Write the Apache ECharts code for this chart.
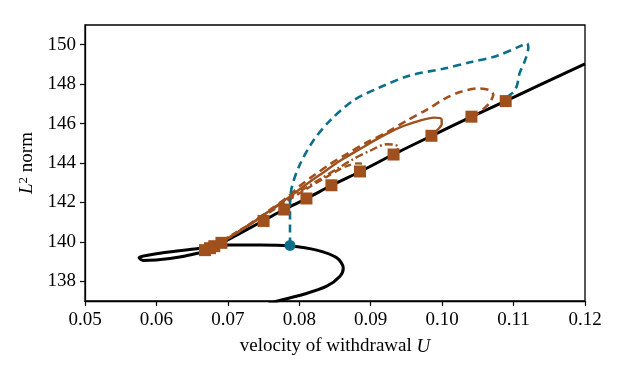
<!DOCTYPE html>
<html>
<head>
<meta charset="utf-8">
<script src="https://cdn.jsdelivr.net/npm/echarts@6/dist/echarts.min.js"></script>
<style>html,body{margin:0;padding:0;background:#fff}#c{width:623px;height:374px}</style>
</head>
<body>
<div id="c"></div>
<script>
// Black solution branch (traversal order)
var blackU = [0.0756, 0.07684, 0.08052, 0.08384, 0.0857, 0.08616, 0.08524, 0.08244, 0.0787, 0.0745, 0.06984, 0.06564, 0.06092, 0.0584, 0.05756, 0.05816, 0.0619, 0.0661, 0.06778, 0.06918, 0.07496, 0.07786, 0.08104, 0.08454, 0.08854, 0.09316, 0.09854, 0.10414, 0.10887, 0.12];
var blackL = [136.83, 136.99, 137.33, 137.75, 138.26, 138.68, 139.19, 139.58, 139.79, 139.84, 139.84, 139.65, 139.45, 139.30, 139.20, 139.06, 139.16, 139.45, 139.68, 139.94, 141.07, 141.64, 142.20, 142.87, 143.57, 144.43, 145.38, 146.35, 147.14, 149.03];

// Blue dashed branch
var blueU = [0.0787, 0.0787, 0.0787, 0.07894, 0.0801, 0.08196, 0.0843, 0.08756, 0.0913, 0.0955, 0.10016, 0.1039, 0.10764, 0.11114, 0.11188, 0.11206, 0.1116, 0.11083, 0.11048, 0.10996, 0.10926, 0.10887];
var blueL = [139.82, 140.80, 141.73, 142.75, 143.94, 145.13, 146.15, 147.17, 147.84, 148.44, 148.78, 149.11, 149.43, 149.96, 150.07, 149.86, 149.20, 148.54, 147.93, 147.59, 147.39, 147.14];

// Brown branches
var brownDashU = [0.10414, 0.10502, 0.106, 0.1067, 0.10716, 0.10656, 0.10488, 0.1025, 0.1004, 0.09788, 0.09504, 0.09224, 0.08944, 0.08664, 0.0843, 0.08196, 0.0801, 0.07824, 0.0759, 0.0731, 0.0703, 0.0675, 0.0668];
var brownDashL = [146.35, 146.53, 146.81, 147.08, 147.47, 147.70, 147.78, 147.60, 147.27, 146.71, 146.15, 145.55, 145.04, 144.45, 143.94, 143.35, 142.84, 142.24, 141.62, 140.91, 140.24, 139.68, 139.56];

var brownSolidU = [0.09854, 0.09924, 0.09994, 0.09991, 0.09886, 0.0969, 0.0941, 0.0913, 0.0885, 0.0857, 0.08336, 0.08104, 0.07916, 0.0766, 0.0738, 0.071, 0.06778, 0.0668];
var brownSolidL = [145.38, 145.64, 145.98, 146.23, 146.30, 146.15, 145.81, 145.30, 144.71, 144.11, 143.52, 142.93, 142.42, 141.77, 141.06, 140.40, 139.74, 139.56];

var brownDotU = [0.09316, 0.09368, 0.09389, 0.0931, 0.09224, 0.0899, 0.08756, 0.08524, 0.0829, 0.08056, 0.078, 0.0752, 0.0717, 0.06778, 0.0668];
var brownDotL = [144.43, 144.62, 144.82, 144.94, 144.95, 144.62, 144.20, 143.69, 143.18, 142.67, 142.08, 141.41, 140.55, 139.71, 139.56];

var brownSmallU = [0.08854, 0.08906, 0.08906, 0.0882, 0.0864, 0.0836, 0.0808, 0.078, 0.07478, 0.071, 0.06778, 0.0668];
var brownSmallL = [143.57, 143.76, 143.93, 143.98, 143.81, 143.25, 142.64, 142.0, 141.26, 140.45, 139.74, 139.56];

// Hopf points (squares) and fold point (circle)
var hopfU = [0.0668, 0.0675, 0.0681, 0.0691, 0.0750, 0.0779, 0.0810, 0.0845, 0.0885, 0.0932, 0.0985, 0.1041, 0.1089];
var hopfL = [139.58, 139.68, 139.78, 139.95, 141.06, 141.64, 142.20, 142.87, 143.57, 144.43, 145.38, 146.35, 147.14];
var dotU = [0.0787];
var dotL = [139.82];

var xTitle = 'velocity of withdrawal ';
var xTitleItalic = 'U';
var yTitleItalic = 'L';
var yTitleSup = '2';
var yTitleRest = ' norm';

function pairs(u, l) { return u.map(function (v, i) { return [v, l[i]]; }); }

var BROWN = '#a0501d';
var BLUE = '#0c6f8a';
var FONT = 'Liberation Serif';

var chart = echarts.init(document.getElementById('c'), null, {renderer: 'canvas'});
chart.setOption({
  animation: false,
  grid: {left: 85, right: 38, top: 25, bottom: 73, show: true, borderColor: '#000', borderWidth: 1.3, backgroundColor: 'transparent'},
  xAxis: {
    type: 'value', min: 0.05, max: 0.12, interval: 0.01,
    axisLine: {lineStyle: {color: '#000', width: 1.3}},
    axisTick: {show: true, length: 5, lineStyle: {color: '#000', width: 1.2}},
    splitLine: {show: false},
    axisLabel: {color: '#000', fontFamily: FONT, fontSize: 19, margin: 10, formatter: function (v) { return v.toFixed(2); }},
    name: '{n|' + xTitle + '}{i|' + xTitleItalic + '}',
    nameLocation: 'middle', nameGap: 36,
    nameTextStyle: {rich: {n: {fontFamily: FONT, fontSize: 19, color: '#000'}, i: {fontFamily: FONT, fontSize: 19, fontStyle: 'italic', color: '#000'}}}
  },
  yAxis: {
    type: 'value', min: 137, max: 151, splitNumber: 7,
    axisLine: {lineStyle: {color: '#000', width: 1.3}},
    axisTick: {show: true, length: 5, lineStyle: {color: '#000', width: 1.2}},
    splitLine: {show: false},
    axisLabel: {color: '#000', fontFamily: FONT, fontSize: 19, margin: 9, showMinLabel: false, showMaxLabel: false},
    name: '{i|' + yTitleItalic + '}{s|' + yTitleSup + '}{n|' + yTitleRest + '}',
    nameLocation: 'middle', nameGap: 43, nameRotate: 90,
    nameTextStyle: {rich: {
      i: {fontFamily: FONT, fontSize: 19, fontStyle: 'italic', color: '#000'},
      s: {fontFamily: FONT, fontSize: 13, color: '#000', verticalAlign: 'top', padding: [0, 0, 8, 0]},
      n: {fontFamily: FONT, fontSize: 19, color: '#000'}
    }}
  },
  series: [
    {type: 'line', data: pairs(blackU, blackL), showSymbol: false, smooth: 0.3, z: 2,
     lineStyle: {color: '#000', width: 3}},
    {type: 'line', data: pairs(brownSmallU, brownSmallL), showSymbol: false, smooth: 0.3, z: 3,
     lineStyle: {color: BROWN, width: 2.4, type: [7, 4]}},
    {type: 'line', data: pairs(brownDotU, brownDotL), showSymbol: false, smooth: 0.3, z: 3,
     lineStyle: {color: BROWN, width: 2.4, type: [8, 3, 2, 3]}},
    {type: 'line', data: pairs(brownSolidU, brownSolidL), showSymbol: false, smooth: 0.3, z: 3,
     lineStyle: {color: BROWN, width: 2.4}},
    {type: 'line', data: pairs(brownDashU, brownDashL), showSymbol: false, smooth: 0.3, z: 3,
     lineStyle: {color: BROWN, width: 2.6, type: [8, 5]}},
    {type: 'line', data: pairs(blueU, blueL), showSymbol: false, smooth: 0.3, z: 4,
     lineStyle: {color: BLUE, width: 2.6, type: [8, 5]}},
    {type: 'scatter', data: pairs(hopfU, hopfL), symbol: 'rect', symbolSize: 12, z: 5,
     itemStyle: {color: BROWN, opacity: 1}},
    {type: 'scatter', data: pairs(dotU, dotL), symbol: 'circle', symbolSize: 11, z: 6,
     itemStyle: {color: BLUE, opacity: 1}}
  ]
});
</script>
</body>
</html>
